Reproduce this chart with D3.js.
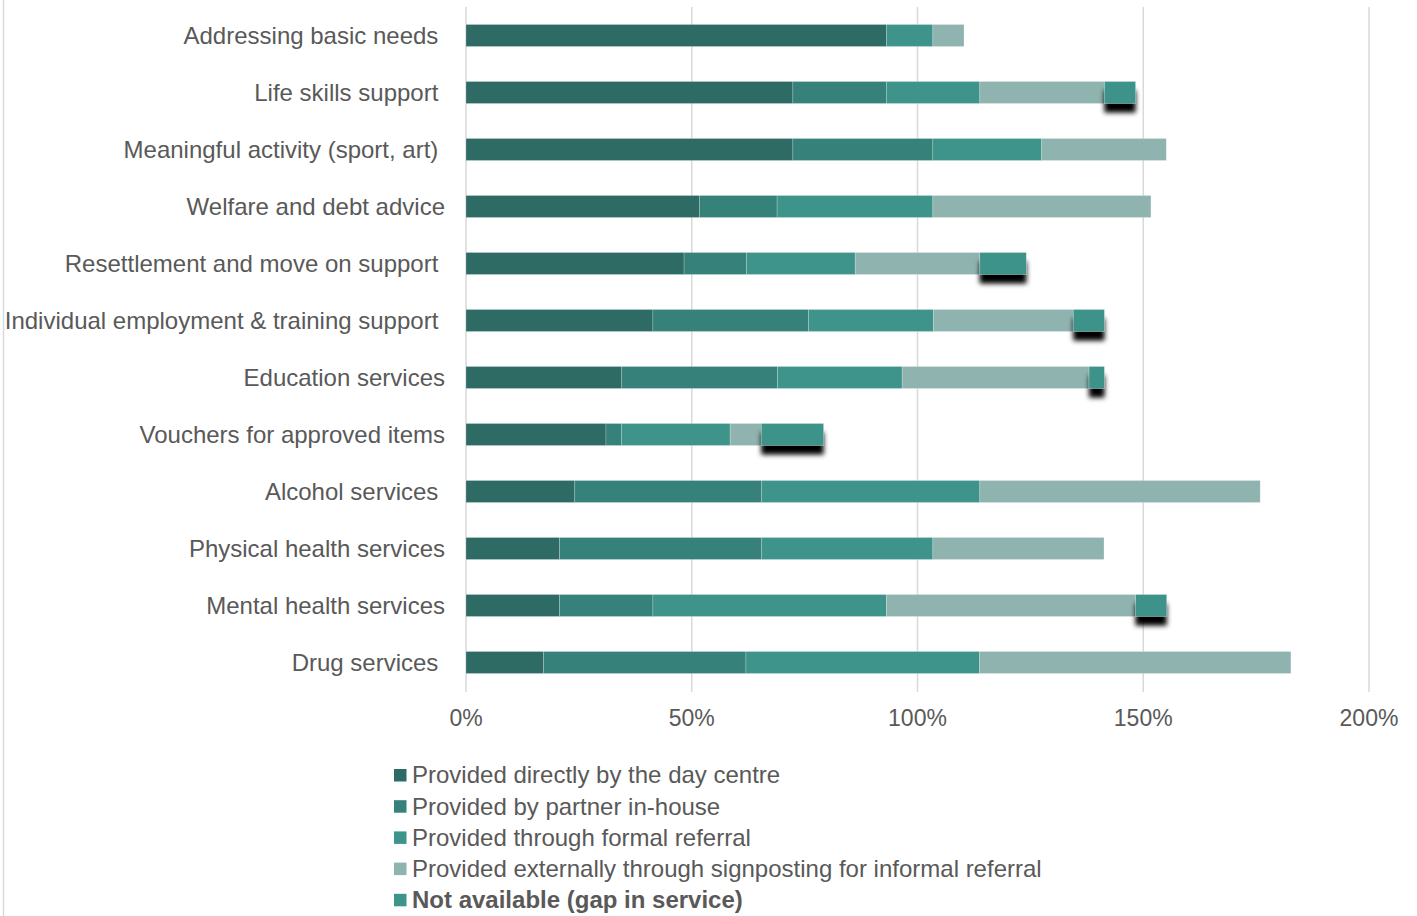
<!DOCTYPE html>
<html>
<head>
<meta charset="utf-8">
<script src="https://cdn.jsdelivr.net/npm/d3@7.9.0/dist/d3.min.js"></script>
<style>
  body { margin: 0; background: #fff; }
  svg { display: block; font-family: "Liberation Sans", Arial, sans-serif; }
  .cat { white-space: pre; }
</style>
</head>
<body>
<svg id="chart" width="1417" height="916"></svg>
<script>
// categories, top to bottom (trailing spaces kept as in the original labels)
const categories = [
  "Addressing basic needs ",
  "Life skills support ",
  "Meaningful activity (sport, art) ",
  "Welfare and debt advice",
  "Resettlement and move on support ",
  "Individual employment & training support ",
  "Education services",
  "Vouchers for approved items",
  "Alcohol services ",
  "Physical health services",
  "Mental health services",
  "Drug services "
];

const seriesNames = [
  "Provided directly by the day centre",
  "Provided by partner in-house",
  "Provided through formal referral",
  "Provided externally through signposting for informal referral",
  "Not available (gap in service)"
];

// percentages per series, same order as categories
const direct   = [93.1, 72.4, 72.4, 51.7, 48.3, 41.4, 34.5, 31.0, 24.1, 20.7, 20.7, 17.2];
const partner  = [0,    20.7, 31.0, 17.2, 13.8, 34.5, 34.5, 3.4,  41.4, 44.8, 20.7, 44.8];
const formal   = [10.3, 20.7, 24.1, 34.5, 24.1, 27.6, 27.6, 24.1, 48.3, 37.9, 51.7, 51.7];
const external = [6.9,  27.6, 27.6, 48.3, 27.6, 31.0, 41.4, 6.9,  62.1, 37.9, 55.2, 69.0];
const gap      = [0,    6.9,  0,    0,    10.3, 6.9,  3.4,  13.8, 0,    0,    6.9,  0];

const xTicks = [0, 50, 100, 150, 200];
const colors = ["#2e6b65", "#36817a", "#3e938a", "#8fb3ae", "#3e938a"];

const keys = ["direct", "partner", "formal", "external", "gap"];
const rows = categories.map((c, i) => ({
  cat: c, direct: direct[i], partner: partner[i], formal: formal[i],
  external: external[i], gap: gap[i]
}));

const svg = d3.select("#chart");
const margin = { left: 466, right: 48, top: 7, bottom: 225 };
const W = 1417, H = 916;

const x = d3.scaleLinear().domain([0, 200]).range([margin.left, W - margin.right]);
const y = d3.scaleBand().domain(categories).range([margin.top, H - margin.bottom]).paddingInner(0.614).paddingOuter(0.307);

const defs = svg.append("defs");
const f = defs.append("filter").attr("id", "shadow")
  .attr("x", "-20%").attr("y", "-20%").attr("width", "140%").attr("height", "220%");
f.append("feDropShadow").attr("dx", 0).attr("dy", 9).attr("stdDeviation", 2.8)
  .attr("flood-color", "#000").attr("flood-opacity", 1);

// left border line
svg.append("line").attr("x1", 3.5).attr("x2", 3.5).attr("y1", 0).attr("y2", H)
  .attr("stroke", "#d9d9d9").attr("stroke-width", 1.5);

// gridlines
svg.append("g").selectAll("line").data(xTicks).join("line")
  .attr("x1", d => x(d)).attr("x2", d => x(d))
  .attr("y1", margin.top).attr("y2", H - margin.bottom + 1)
  .attr("stroke", "#d9d9d9").attr("stroke-width", 1.5);

// tick labels
svg.append("g").selectAll("text").data(xTicks).join("text")
  .attr("x", d => x(d)).attr("y", 726)
  .attr("text-anchor", "middle").attr("font-size", 23).attr("fill", "#595959")
  .text(d => d + "%");

const stacked = d3.stack().keys(keys)(rows);

const layers = svg.append("g").selectAll("g").data(stacked).join("g")
  .attr("fill", (d, i) => colors[i])
  .attr("filter", (d, i) => i === 4 ? "url(#shadow)" : null);

layers.selectAll("rect").data(d => d.filter(s => s[1] - s[0] > 0)).join("rect")
  .attr("x", d => x(d[0]))
  .attr("width", d => x(d[1]) - x(d[0]))
  .attr("y", d => y(d.data.cat))
  .attr("height", y.bandwidth())
  .attr("stroke", "#ffffff").attr("stroke-opacity", 0.35).attr("stroke-width", 0.6);

// category labels
svg.append("g").selectAll("text").data(categories).join("text")
  .attr("class", "cat")
  .attr("x", 445).attr("y", d => y(d) + y.bandwidth() / 2)
  .attr("dy", "0.35em").attr("text-anchor", "end")
  .attr("font-size", 24).attr("fill", "#595959")
  .text(d => d);

// legend
const legend = svg.append("g").attr("transform", "translate(394, 775)");
const li = legend.selectAll("g").data(seriesNames).join("g")
  .attr("transform", (d, i) => `translate(0, ${i * 31.2})`);
li.append("rect").attr("x", 0).attr("y", -6).attr("width", 12.5).attr("height", 12.5)
  .attr("fill", (d, i) => colors[i]);
li.append("text").attr("x", 18).attr("y", 0).attr("dy", "0.35em")
  .attr("font-size", 24).attr("fill", "#595959")
  .attr("font-weight", (d, i) => i === 4 ? "bold" : null)
  .text(d => d);
</script>
</body>
</html>
